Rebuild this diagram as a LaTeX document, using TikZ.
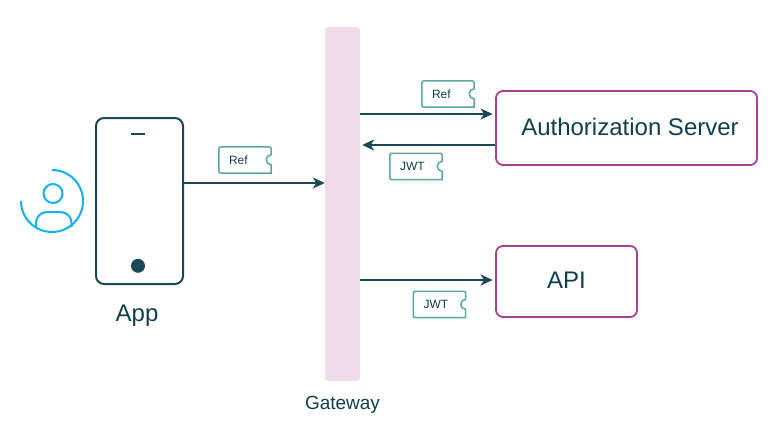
\documentclass[tikz,border=0pt]{standalone}
\usepackage{fontspec}
\setmainfont{Liberation Sans}
\usepackage{xcolor}
\usetikzlibrary{arrows.meta,positioning,calc}

\definecolor{inkdark}{HTML}{1B4756}
\definecolor{textdark}{HTML}{0F3F4E}
\definecolor{gatepink}{HTML}{EFDCE8}
\definecolor{boxpurple}{HTML}{A8408F}
\definecolor{ticketteal}{HTML}{5BA6A0}
\definecolor{userblue}{HTML}{12B0F0}

\tikzset{
    box/.style={rectangle, draw=boxpurple, line width=1.8pt, rounded corners=7pt, text=textdark, font=\fontsize{24}{26}\selectfont, align=center, inner sep=0pt},
    phone/.style={rectangle, draw=inkdark, line width=2pt, rounded corners=8pt, minimum width=87pt, minimum height=166pt},
    gatebar/.style={rectangle, fill=gatepink, rounded corners=3pt, minimum width=35pt, minimum height=354pt, inner sep=0pt},
    arrow/.style={-{Stealth[length=12pt,width=11pt,inset=3.5pt]}, draw=inkdark, line width=2pt},
    ticket/.style={rectangle, text width=32pt, minimum height=26pt, inner xsep=10pt, inner ysep=0pt, align=left, text=textdark, font=\fontsize{12}{14}\selectfont},
    ticketline/.style={draw=ticketteal, line width=1.5pt},
    caption/.style={text=textdark, inner sep=0pt},
    usericon/.style={draw=userblue, line width=2pt}
}

% ticket outline round a named node
\newcommand{\ticketnode}[3]{
    \node[ticket] (#1) at (#2) {#3};
    \draw[ticketline, rounded corners=2pt] (#1.south east) -- (#1.south west) -- (#1.north west) -- (#1.north east)
        [sharp corners] -- ([yshift=-8pt]#1.north east) arc[start angle=90, delta angle=180, radius=5pt] -- cycle;
}

\begin{document}
\begin{tikzpicture}[x=1pt, y=-1pt]
\useasboundingbox (0,0) rectangle (780,439);

% Gateway
\node[gatebar] (gateway) at (342.5,204) {};
\node[caption, below=15pt of gateway, font=\fontsize{19}{21}\selectfont] (gatewaylabel) {Gateway};

% App
\node[phone] (app) at (139.5,201) {};
\node[caption, below=20pt of app, xshift=-2.5pt, font=\fontsize{24}{26}\selectfont] (applabel) {App};
\node[circle, fill=inkdark, minimum size=14pt, inner sep=0pt, above=12pt of app.south, xshift=-1.5pt] (homekey) {};
\coordinate (speakerleft) at ($(app.north)+(-8.5,16.5)$);
\coordinate (speakerright) at ($(app.north)+(5.5,16.5)$);
\draw[draw=inkdark, line width=2pt] (speakerleft) -- (speakerright);

% User
\draw[usericon] (52,170) arc[start angle=90, delta angle=-270, radius=31pt];
\draw[usericon] (53,193.5) circle[radius=9.5pt];
\draw[usericon, rounded corners=11pt] (36,227) -- (36,212) -- (71.5,212) -- (71.5,227);

% Servers
\node[box, minimum width=261pt, minimum height=74pt] (auth) at (626.5,128) {};
\node[caption, font=\fontsize{24}{26}\selectfont] (authlabel) at (630,127) {Authorization Server};
\node[box, minimum width=141pt, minimum height=71pt] (api) at (566.5,281.5) {\raisebox{2pt}{API}};

% Tickets
\ticketnode{refapp}{245,160}{Ref}
\ticketnode{refauth}{448,94}{Ref}
\ticketnode{jwtauth}{416,166.5}{JWT}
\ticketnode{jwtapi}{439.5,304.5}{JWT}

% Arrows
\draw[arrow] ([yshift=18pt]app.east) -- ([yshift=18pt]app.east -| gateway.west);
\draw[arrow, shorten >=2.5pt] ([yshift=14pt]auth.west -| gateway.east) -- ([yshift=14pt]auth.west);
\draw[arrow] ([yshift=-17pt]auth.west) -- ([yshift=-17pt,xshift=2pt]auth.west -| gateway.east);
\draw[arrow, shorten >=2.5pt] ([yshift=1.5pt]api.west -| gateway.east) -- ([yshift=1.5pt]api.west);

\end{tikzpicture}
\end{document}
